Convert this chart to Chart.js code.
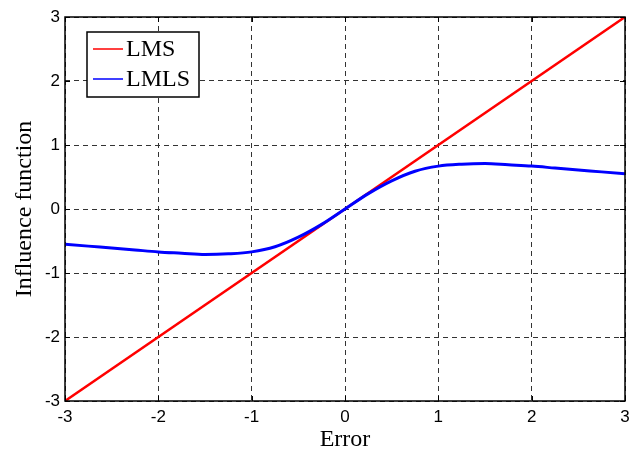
<!DOCTYPE html>
<html>
<head>
<meta charset="utf-8">
<script src="https://cdn.jsdelivr.net/npm/chart.js@4"></script>
<style>
  html, body { margin: 0; padding: 0; background: #fff; }
  #wrap { width: 641px; height: 454px; }
</style>
</head>
<body>
<div id="wrap"><canvas id="influenceChart" width="641" height="454"></canvas></div>
<script>
// error values and influence function readings
const errorTicks = [-3, -2, -1, 0, 1, 2, 3];
const valueTicks = [-3, -2, -1, 0, 1, 2, 3];

const lmsError = [-3, 3];
const lmsValue = [-3, 3];

const lmlsError = [-3, -2.75, -2.5, -2.25, -2, -1.75, -1.5, -1.25, -1, -0.75, -0.5, -0.25,
                   0, 0.25, 0.5, 0.75, 1, 1.25, 1.5, 1.75, 2, 2.25, 2.5, 2.75, 3];
const lmlsValue = [-0.55, -0.58, -0.61, -0.64, -0.67, -0.69, -0.71, -0.70, -0.67, -0.59, -0.44, -0.24,
                   0, 0.24, 0.44, 0.59, 0.67, 0.70, 0.71, 0.69, 0.67, 0.64, 0.61, 0.58, 0.55];

function toPoints(xs, ys) {
    return xs.map((x, i) => ({ x: x, y: ys[i] }));
}

const serif = '"Liberation Serif", "Times New Roman", serif';
const sans = '"Liberation Sans", Arial, sans-serif';

// box around the plot, inward ticks and the legend in the upper left
const framePlugin = {
    id: 'frame',
    afterDraw(chart) {
        const { ctx, chartArea: a, scales } = chart;
        ctx.save();
        ctx.strokeStyle = '#000';
        ctx.lineWidth = 1.5;
        ctx.strokeRect(a.left, a.top, a.right - a.left, a.bottom - a.top);

        ctx.lineWidth = 1;
        ctx.beginPath();
        errorTicks.forEach(v => {
            const x = Math.round(scales.x.getPixelForValue(v)) + 0.5;
            ctx.moveTo(x, a.bottom); ctx.lineTo(x, a.bottom - 5);
            ctx.moveTo(x, a.top); ctx.lineTo(x, a.top + 5);
        });
        valueTicks.forEach(v => {
            const y = Math.round(scales.y.getPixelForValue(v)) + 0.5;
            ctx.moveTo(a.left, y); ctx.lineTo(a.left + 5, y);
            ctx.moveTo(a.right, y); ctx.lineTo(a.right - 5, y);
        });
        ctx.stroke();

        // legend
        const lx = 87, ly = 32, lw = 112, lh = 65;
        ctx.fillStyle = '#fff';
        ctx.fillRect(lx, ly, lw, lh);
        ctx.lineWidth = 1.5;
        ctx.strokeRect(lx, ly, lw, lh);
        ctx.font = '24px ' + serif;
        ctx.textBaseline = 'middle';
        chart.data.datasets.forEach((ds, i) => {
            const y = ly + 17 + i * 30;
            ctx.strokeStyle = ds.borderColor;
            ctx.lineWidth = 1.5;
            ctx.beginPath();
            ctx.moveTo(lx + 6, y);
            ctx.lineTo(lx + 36, y);
            ctx.stroke();
            ctx.fillStyle = '#000';
            ctx.fillText(ds.label, lx + 39, y + 1);
        });
        ctx.restore();
    }
};

const gridStyle = {
    color: '#333',
    lineWidth: 1,
    drawTicks: false
};

new Chart(document.getElementById('influenceChart'), {
    type: 'line',
    data: {
        datasets: [{
            label: 'LMS',
            data: toPoints(lmsError, lmsValue),
            borderColor: 'rgb(255, 0, 0)',
            borderWidth: 2.5,
            pointRadius: 0,
            order: 1
        }, {
            label: 'LMLS',
            data: toPoints(lmlsError, lmlsValue),
            borderColor: 'rgb(0, 0, 255)',
            borderWidth: 3,
            pointRadius: 0,
            cubicInterpolationMode: 'monotone',
            order: 0
        }]
    },
    options: {
        responsive: false,
        animation: false,
        layout: { padding: { top: 17, right: 16, left: 0, bottom: 0 } },
        plugins: {
            legend: { display: false },
            tooltip: { enabled: false }
        },
        scales: {
            x: {
                type: 'linear',
                min: -3,
                max: 3,
                afterBuildTicks: s => { s.ticks = errorTicks.map(v => ({ value: v })); },
                afterFit: s => { s.height = 53; },
                grid: gridStyle,
                border: { display: false, dash: [5, 4] },
                ticks: {
                    color: '#000',
                    padding: 6,
                    maxRotation: 0,
                    font: { family: sans, size: 17 }
                },
                title: {
                    display: true,
                    text: 'Error',
                    color: '#000',
                    padding: { top: 0, bottom: 0 },
                    font: { family: serif, size: 24 }
                }
            },
            y: {
                type: 'linear',
                min: -3,
                max: 3,
                afterBuildTicks: s => { s.ticks = valueTicks.map(v => ({ value: v })); },
                afterFit: s => { s.width = 65; },
                grid: gridStyle,
                border: { display: false, dash: [5, 4] },
                ticks: {
                    color: '#000',
                    padding: 5,
                    font: { family: sans, size: 17 }
                },
                title: {
                    display: true,
                    text: 'Influence function',
                    color: '#000',
                    padding: { top: 10, bottom: 0 },
                    font: { family: serif, size: 24 }
                }
            }
        }
    },
    plugins: [framePlugin]
});
</script>
</body>
</html>
